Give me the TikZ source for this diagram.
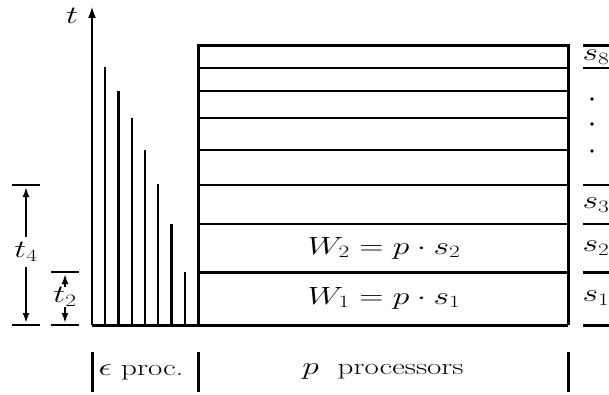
\documentclass[tikz,border=0pt]{standalone}
\usepackage{graphicx}
\usetikzlibrary{arrows.meta}
\newcommand\wtext[1]{\scalebox{1.35}[1]{#1}}
\begin{document}
\begin{tikzpicture}[x=1pt,y=-1pt,
  lbl/.style={font=\fontsize{23}{27}\selectfont, inner sep=0pt},
  thin/.style={line width=1.9pt},
  mid/.style={line width=2.3pt},
  thick/.style={line width=3.0pt},
  tip/.style={-{Latex[length=10pt,width=7pt]}},
  bigtip/.style={-{Latex[length=12pt,width=8pt]}},
  ]
\useasboundingbox (0,0) rectangle (609,395);
% time axis
\coordinate (ax0) at (92,325);
\coordinate (ax1) at (92,6);
\draw[mid,bigtip] (ax0) -- (ax1);
\node[lbl] (tlab) at (72,16) {\wtext{$t$}};
% epsilon bars
\foreach \x/\y/\w [count=\i] in {105/67/thin,118/91/thick,132/118/thin,145/150/mid,158/184/thin,171/224/thick,185/272/thin}{
  \coordinate (b\i a) at (\x,325);
  \coordinate (b\i b) at (\x,\y);
  \draw[\w] (b\i a) -- (b\i b);
}
% box
\coordinate (bl) at (198,325);
\coordinate (tr) at (568,46);
\draw[thick] (ax0) -- (568,325);
\draw[thick] (bl) |- (tr) -- (568,325);
\foreach \y/\w in {68/mid,91/mid,118/mid,150/mid,185/mid,224/mid,272/thick}{
  \draw[\w] (198,\y) -- (568,\y);
}
\node[lbl] (w2) at (384,248) {\wtext{$W_2 = p\cdot s_2$}};
\node[lbl] (w1) at (384,298) {\wtext{$W_1 = p\cdot s_1$}};
% right scale
\foreach \y/\w in {46/thick,68/mid,185/mid,224/mid,272/thick,325/thick}{
  \draw[\w] (583,\y) -- (609,\y);
}
\node[lbl] (s8) at (596,57) {\wtext{$s_8$}};
\node[lbl] (s3) at (596,205) {\wtext{$s_3$}};
\node[lbl] (s2) at (596,248) {\wtext{$s_2$}};
\node[lbl] (s1) at (596,298) {\wtext{$s_1$}};
\foreach \y [count=\i] in {99,124,151}{
  \fill (592,\y) circle (1.8pt) coordinate (d\i);
}
% t4 dimension
\draw[mid] (12,185) -- (40,185);
\draw[mid] (12,325) -- (40,325);
\node[lbl] (t4) at (26,252) {\wtext{$t_4$}};
\draw[mid,tip] (t4.north) ++(0,-5) coordinate (t4u) -- (26,187);
\draw[mid,tip] (t4.south) ++(0,5) coordinate (t4d) -- (26,323);
% t2 dimension
\draw[mid] (51,272) -- (79,272);
\draw[mid] (51,325) -- (79,325);
\node[lbl] (t2) at (65,297) {\wtext{$t_2$}};
\draw[mid,tip] (t2.north) -- (65,274);
\draw[mid,tip] (t2.south) -- (65,323);
% bottom labels
\foreach \x [count=\i] in {92,198,568}{
  \draw[thick] (\x,352) -- (\x,392);
}
\node[lbl] (eps) at (141,372) {\wtext{$\epsilon$\ proc.}};
\node[lbl] (pp) at (383,372) {\wtext{$p$\ \ processors}};
\end{tikzpicture}
\end{document}
